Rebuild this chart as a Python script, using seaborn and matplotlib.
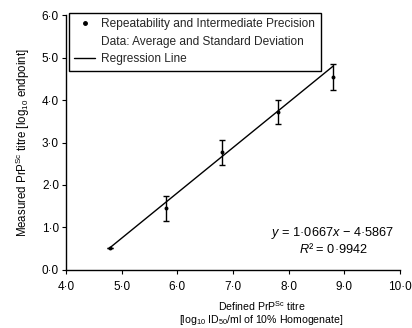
import matplotlib
matplotlib.use("Agg")
import matplotlib.pyplot as plt
from matplotlib.lines import Line2D
from matplotlib.ticker import FixedLocator, FuncFormatter
import seaborn as sns
import pandas as pd
import numpy as np

# Data
defined_titre = [4.8, 5.8, 6.8, 7.8, 8.8]
measured_mean = [0.52, 1.45, 2.77, 3.72, 4.54]
measured_sd = [0.0, 0.30, 0.29, 0.28, 0.30]
slope = 1.0667
intercept = -4.5867
r_squared = 0.9942
x_ticks = [4.0, 5.0, 6.0, 7.0, 8.0, 9.0, 10.0]
y_ticks = [0.0, 1.0, 2.0, 3.0, 4.0, 5.0, 6.0]

df = pd.DataFrame({"x": defined_titre, "y": measured_mean, "sd": measured_sd})
reg = pd.DataFrame({"x": [defined_titre[0], defined_titre[-1]]})
reg["y"] = slope * reg["x"] + intercept

sns.set_theme(style="ticks")
plt.rcParams["font.family"] = ["Liberation Sans", "DejaVu Sans"]
plt.rcParams["mathtext.fontset"] = "custom"
plt.rcParams["mathtext.rm"] = "Liberation Sans"
plt.rcParams["mathtext.it"] = "Liberation Sans:italic"

fig = plt.figure(figsize=(4.12, 3.28), dpi=100)
ax = fig.add_axes([0.160, 0.177, 0.811, 0.777])

sns.lineplot(data=reg, x="x", y="y", ax=ax, color="black", linewidth=1.0)
ax.errorbar(df["x"], df["y"], yerr=df["sd"], fmt="none", ecolor="black",
            elinewidth=1.0, capsize=2.5, capthick=1.0)
sns.scatterplot(data=df, x="x", y="y", ax=ax, color="black", s=8,
                edgecolor="black", linewidth=0, zorder=5)

ax.set_xlim(4.0, 10.0)
ax.set_ylim(0.0, 6.0)
fmt = FuncFormatter(lambda v, p: f"{v:.1f}".replace(".", "\u00b7"))
ax.xaxis.set_major_locator(FixedLocator(x_ticks))
ax.yaxis.set_major_locator(FixedLocator(y_ticks))
ax.xaxis.set_major_formatter(fmt)
ax.yaxis.set_major_formatter(fmt)
ax.tick_params(axis="both", labelsize=8.5, length=3, width=0.8, color="black",
               labelcolor="black")
ax.tick_params(axis="x", pad=5)
ax.tick_params(axis="y", pad=2)
sns.despine(ax=ax)
for s in ["left", "bottom"]:
    ax.spines[s].set_color("black")
    ax.spines[s].set_linewidth(1.0)

ax.set_xlabel("Defined PrP$^{\\rm Sc}$ titre\n[log$_{10}$ ID$_{50}$/ml of 10% Homogenate]",
              fontsize=7.6, color="black", linespacing=1.0)
ax.xaxis.set_label_coords(0.585, -0.115, transform=ax.transAxes)
ax.xaxis.label.set_verticalalignment("top")
ax.set_ylabel("Measured PrP$^{\\rm Sc}$ titre [log$_{10}$ endpoint]",
              fontsize=8.3, color="black", labelpad=7)

handles = [
    Line2D([], [], linestyle="none", marker="o", markersize=2.5, color="black"),
    Line2D([], [], linestyle="none", marker=None),
    Line2D([], [], color="black", linewidth=1.0),
]
labels = [
    "Repeatability and Intermediate Precision",
    "Data: Average and Standard Deviation",
    "Regression Line",
]
leg = ax.legend(handles, labels, loc="upper left", bbox_to_anchor=(0.008, 1.01),
                fontsize=8.6, frameon=True, fancybox=False, framealpha=1,
                edgecolor="black", handlelength=1.8, handletextpad=0.5,
                labelspacing=0.48, borderpad=0.45, borderaxespad=0)
leg.get_frame().set_linewidth(1.0)

eq = f"$y$ = {slope:.4f}$x$ \u2212 {abs(intercept):.4f}".replace(".", "\u00b7")
r2 = f"$R$\u00b2 = {r_squared:.4f}".replace(".", "\u00b7")
ax.text(0.983, 0.145, eq, transform=ax.transAxes, ha="right", va="center",
        fontsize=9.2, color="black")
ax.text(0.905, 0.082, r2, transform=ax.transAxes, ha="right", va="center",
        fontsize=9.2, color="black")

fig.savefig("out.png", dpi=100)
